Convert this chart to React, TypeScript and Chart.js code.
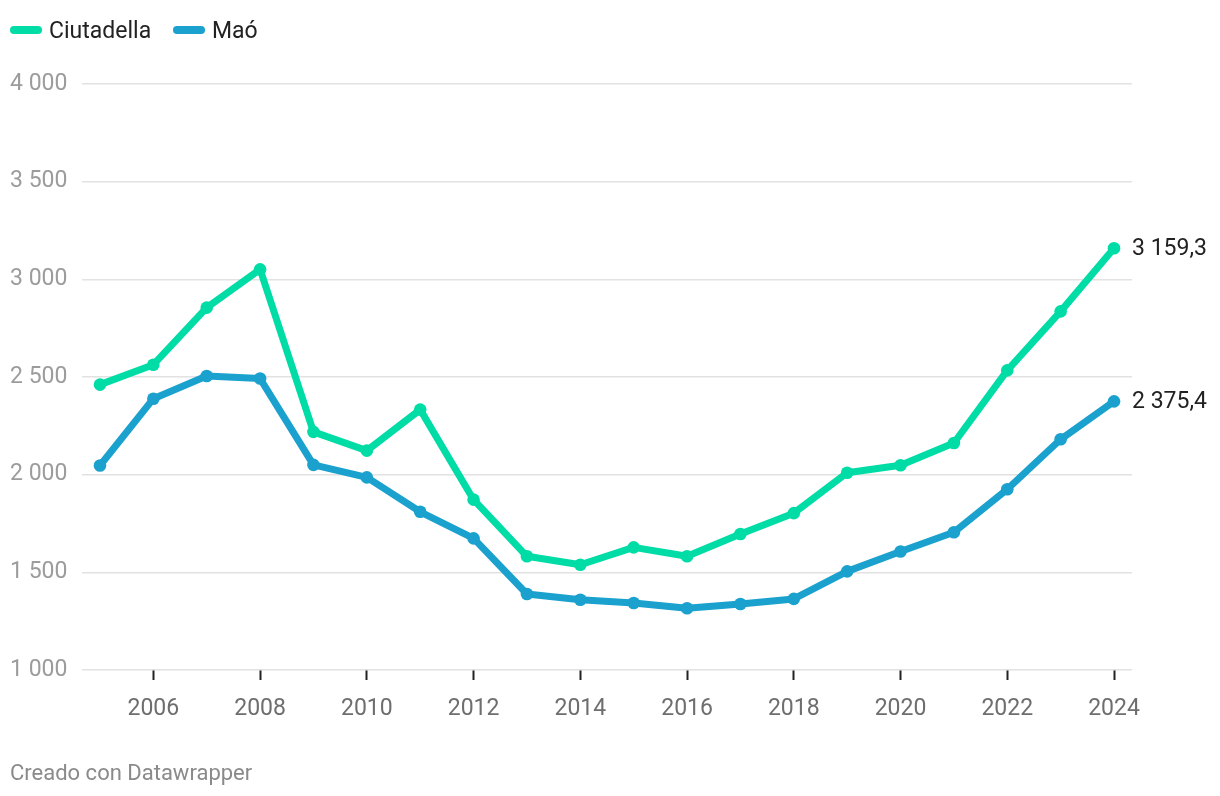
import React, { useEffect, useRef } from "react";
import { Chart, registerables } from "chart.js";

Chart.register(...registerables);

const years = [2005, 2006, 2007, 2008, 2009, 2010, 2011, 2012, 2013, 2014, 2015, 2016, 2017, 2018, 2019, 2020, 2021, 2022, 2023, 2024];
const ciutadella = [2461, 2563, 2855, 3051, 2219, 2123, 2333, 1872, 1582, 1539, 1628, 1582, 1696, 1803, 2010, 2048, 2162, 2534, 2836, 3159.3];
const mao = [2047, 2389, 2505, 2492, 2050, 1986, 1810, 1674, 1389, 1360, 1343, 1316, 1338, 1364, 1505, 1607, 1705, 1925, 2181, 2375.4];
const xTicks = [2006, 2008, 2010, 2012, 2014, 2016, 2018, 2020, 2022, 2024];
const endLabels = ["3 159,3", "2 375,4"];

const GREEN = "#00dca6";
const BLUE = "#1aa1cd";
const FONT = "Roboto, 'Noto Sans', sans-serif";

const fmt = (v: number) => {
  const s = Math.round(v).toString();
  return s.replace(/\B(?=(\d{3})+(?!\d))/g, " ");
};

const endLabelPlugin = {
  id: "endLabels",
  afterDatasetsDraw(chart: any) {
    const ctx = chart.ctx;
    ctx.save();
    ctx.font = `23px ${FONT}`;
    ctx.fillStyle = "#222";
    ctx.textAlign = "left";
    ctx.textBaseline = "middle";
    chart.data.datasets.forEach((ds: any, i: number) => {
      const meta = chart.getDatasetMeta(i);
      const pt = meta.data[meta.data.length - 1];
      if (pt) ctx.fillText(endLabels[i], pt.x + 18, pt.y + 1);
    });
    ctx.restore();
  },
};

export default function App() {
  const ref = useRef<HTMLCanvasElement | null>(null);
  useEffect(() => {
    if (!ref.current) return;
    const chart = new Chart(ref.current, {
      type: "line",
      data: {
        datasets: [
          {
            label: "Ciutadella",
            data: years.map((y, i) => ({ x: y, y: ciutadella[i] })),
            borderColor: GREEN,
            backgroundColor: GREEN,
            borderWidth: 7,
            pointRadius: 6.3,
            pointBorderWidth: 0,
            pointBackgroundColor: GREEN,
            borderJoinStyle: "round",
            borderCapStyle: "round",
          },
          {
            label: "Maó",
            data: years.map((y, i) => ({ x: y, y: mao[i] })),
            borderColor: BLUE,
            backgroundColor: BLUE,
            borderWidth: 7,
            pointRadius: 6.3,
            pointBorderWidth: 0,
            pointBackgroundColor: BLUE,
            borderJoinStyle: "round",
            borderCapStyle: "round",
          },
        ],
      },
      options: {
        animation: false,
        responsive: false,
        layout: { padding: { left: 10, right: 88, top: 84, bottom: 0 } },
        plugins: { legend: { display: false }, tooltip: { enabled: false } },
        scales: {
          x: {
            type: "linear",
            min: 2004.663,
            max: 2024.337,
            afterBuildTicks: (scale: any) => {
              scale.ticks = xTicks.map((v) => ({ value: v }));
            },
            afterFit: (scale: any) => {
              scale.height = 126;
            },
            grid: {
              drawOnChartArea: false,
              drawTicks: true,
              tickLength: 10,
              tickColor: "#222",
              tickWidth: 2,
            },
            border: { display: false },
            ticks: {
              autoSkip: false,
              maxRotation: 0,
              padding: 15,
              color: "#6e6e6e",
              font: { family: FONT, size: 23 },
              callback: (v: any) => String(v),
            },
          },
          y: {
            min: 1000,
            max: 4000,
            afterFit: (scale: any) => {
              scale.width = 72;
            },
            grid: {
              color: "#e2e2e2",
              lineWidth: 1.5,
              drawTicks: false,
            },
            border: { display: false },
            ticks: {
              stepSize: 500,
              crossAlign: "far",
              padding: 0,
              color: "#9c9c9c",
              font: { family: FONT, size: 23 },
              callback: (v: any) => fmt(Number(v)),
            },
          },
        },
      },
      plugins: [endLabelPlugin],
    } as any);
    return () => chart.destroy();
  }, []);

  const legendItem = (color: string, text: string, left: number) => (
    <div style={{ position: "absolute", left, top: 15, display: "flex", alignItems: "center", height: 30 }}>
      <span style={{ display: "inline-block", width: 32, height: 8, borderRadius: 4, background: color, marginRight: 7 }} />
      <span style={{ fontSize: 23, color: "#222", fontFamily: FONT }}>{text}</span>
    </div>
  );

  return (
    <div style={{ position: "absolute", left: 0, top: 0, width: 1220, height: 796, background: "#fff", fontFamily: FONT }}>
      <canvas ref={ref} width={1220} height={796} style={{ position: "absolute", left: 0, top: 0, width: 1220, height: 796 }} />
      {legendItem(GREEN, "Ciutadella", 10)}
      {legendItem(BLUE, "Maó", 173)}
      <div style={{ position: "absolute", left: 10, top: 760, fontSize: 22, color: "#8a8a8a", fontFamily: FONT }}>
        Creado con Datawrapper
      </div>
    </div>
  );
}
